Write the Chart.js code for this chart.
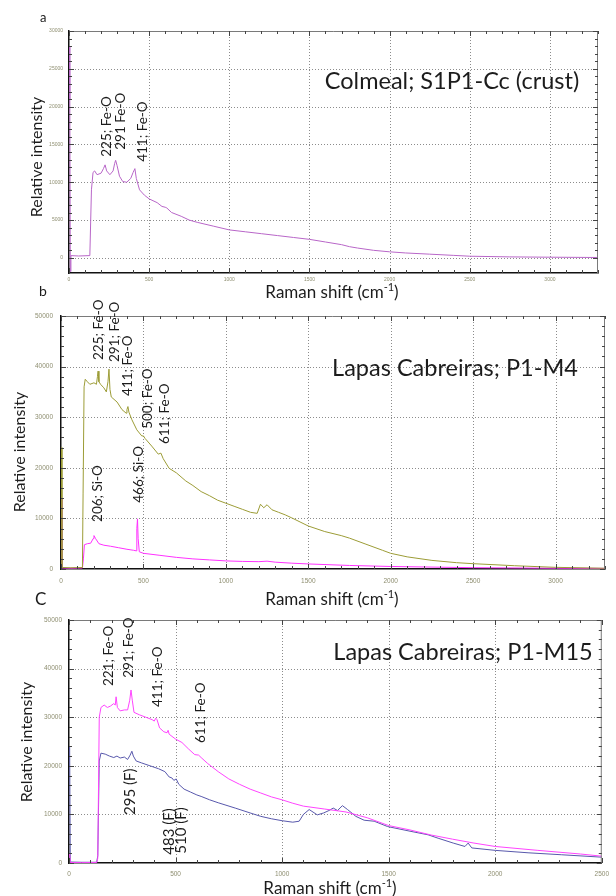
<!DOCTYPE html>
<html>
<head>
<meta charset="utf-8">
<script src="https://cdn.jsdelivr.net/npm/chart.js@4.4.1/dist/chart.umd.min.js"></script>
<style>
  body { margin: 0; background: #fff; width: 616px; height: 896px; overflow: hidden; position: relative; }
  canvas { position: absolute; left: 0; top: 0; pointer-events: none; }
</style>
</head>
<body>
<canvas id="chartA" width="616" height="896"></canvas>
<canvas id="chartB" width="616" height="896"></canvas>
<canvas id="chartC" width="616" height="896"></canvas>
<script>
// ---- panel a : Colmeal; S1P1-Cc (crust)
const shiftA = [3, 5, 8, 12, 60, 130, 140, 150, 160, 175, 200, 215, 225, 235, 255, 275, 285, 291, 300, 315, 335, 360, 385, 400, 411, 420, 440, 470, 500, 550, 580, 600, 610, 640, 700, 750, 800, 900, 1000, 1100, 1200, 1300, 1400, 1500, 1600, 1700, 1750, 1800, 1900, 2000, 2100, 2250, 2400, 2500, 2750, 3000, 3300];
const intensityA = [28000, 21000, -1800, 300, 250, 300, 9000, 11300, 11500, 11000, 11200, 11800, 12300, 11500, 11000, 11500, 12500, 12900, 12200, 10800, 10100, 10000, 10500, 11300, 11800, 10500, 9000, 8300, 7800, 7300, 6800, 6700, 6600, 6000, 5500, 5000, 4700, 4200, 3700, 3450, 3200, 2950, 2700, 2450, 2100, 1750, 1480, 1300, 1000, 800, 650, 490, 330, 220, 130, 90, 50];
const xTicksA = [0, 500, 1000, 1500, 2000, 2500, 3000];
const yTicksA = [0, 5000, 10000, 15000, 20000, 25000, 30000];
const peaksA = [
  { label: '225; Fe-O', x: 237, y: 13370 },
  { label: '291 Fe-O', x: 325, y: 14300 },
  { label: '411; Fe-O', x: 462, y: 12700 }
];

// ---- panel b : Lapas Cabreiras; P1-M4
const shiftB1 = [3, 6, 60, 130, 134, 140, 147, 160, 175, 200, 215, 221, 225, 230, 240, 260, 275, 285, 291, 297, 305, 340, 370, 395, 400, 406, 412, 430, 460, 490, 500, 510, 550, 590, 606, 620, 656, 700, 757, 800, 850, 900, 950, 1000, 1050, 1100, 1150, 1190, 1210, 1230, 1250, 1280, 1320, 1360, 1400, 1450, 1500, 1600, 1700, 1750, 1850, 1950, 2000, 2100, 2250, 2400, 2500, 2750, 3000, 3300];
const intensityB1 = [24000, 300, 250, 300, 15000, 36000, 37500, 37000, 36500, 36800, 36500, 38000, 39100, 37000, 36500, 35800, 35000, 37000, 39500, 35500, 34000, 33000, 31500, 30800, 31500, 32100, 31000, 29500, 27500, 26300, 26300, 25800, 24300, 22700, 22900, 21800, 19900, 19000, 17400, 16500, 15300, 14500, 13600, 13000, 12400, 11800, 11200, 11000, 12800, 12100, 12700, 11700, 11200, 10700, 10100, 9300, 8500, 7400, 6600, 6100, 4900, 3700, 3100, 2400, 1700, 1250, 1050, 650, 330, 150];
const shiftB2 = [3, 6, 60, 130, 136, 142, 160, 180, 195, 200, 210, 230, 260, 300, 350, 400, 440, 455, 460, 464, 468, 475, 500, 600, 700, 800, 900, 1000, 1100, 1200, 1250, 1300, 1400, 1500, 1750, 2000, 2500, 3000, 3300];
const intensityB2 = [14000, 200, 150, 200, 2000, 4800, 5000, 5100, 6000, 6600, 6000, 5000, 4700, 4500, 4200, 3900, 3700, 3600, 8000, 9900, 6000, 3400, 3100, 2700, 2300, 2000, 1800, 1600, 1500, 1450, 1550, 1350, 1150, 1000, 700, 500, 260, 150, 120];
const xTicksB = [0, 500, 1000, 1500, 2000, 2500, 3000];
const yTicksB = [0, 10000, 20000, 30000, 40000, 50000];
const peaksB = [
  { label: '225; Fe-O', x: 229, y: 41300 },
  { label: '291; Fe-O', x: 325, y: 40900 },
  { label: '411; Fe-O', x: 404, y: 34200 },
  { label: '500; Fe-O', x: 524, y: 27700 },
  { label: '611; Fe-O', x: 627, y: 24700 },
  { label: '206; Si-O', x: 223, y: 9300 },
  { label: '466; Si-O', x: 470, y: 13100 }
];

// ---- panel c : Lapas Cabreiras; P1-M15
const shiftC1 = [3, 6, 60, 130, 135, 142, 150, 165, 180, 195, 210, 217, 221, 227, 240, 260, 275, 285, 291, 297, 305, 330, 360, 390, 400, 407, 413, 425, 445, 460, 465, 470, 500, 530, 560, 590, 608, 620, 650, 700, 750, 800, 850, 900, 950, 1000, 1050, 1100, 1200, 1300, 1400, 1500, 1600, 1700, 1800, 1900, 2000, 2200, 2400, 2500];
const intensityC1 = [2000, 100, 80, 100, 1000, 30000, 32000, 32500, 32000, 32300, 32800, 32500, 34200, 32000, 31300, 31500, 31500, 33500, 35600, 33500, 31000, 30500, 30000, 29500, 29200, 29800, 29500, 27800, 27000, 26800, 27300, 26500, 25500, 24800, 23500, 22300, 22200, 21700, 20500, 18800, 17300, 16200, 15200, 14400, 13600, 13000, 12300, 11700, 11100, 10500, 9300, 7700, 6800, 5750, 4900, 4100, 3400, 2600, 1850, 1400];
const shiftC2 = [3, 6, 60, 130, 135, 142, 150, 170, 190, 210, 225, 240, 260, 275, 287, 295, 302, 315, 340, 380, 420, 450, 470, 483, 492, 503, 515, 540, 570, 600, 620, 660, 700, 780, 850, 900, 950, 1000, 1050, 1080, 1100, 1127, 1165, 1195, 1220, 1240, 1260, 1283, 1307, 1346, 1385, 1432, 1495, 1605, 1685, 1732, 1803, 1858, 1873, 1890, 2000, 2154, 2310, 2500];
const intensityC2 = [24000, 200, 150, 150, 1500, 21000, 22600, 22400, 22000, 21700, 22000, 21600, 21800, 21300, 22200, 23000, 22000, 21000, 20600, 20000, 19400, 18800, 17700, 17500, 17000, 17300, 16200, 15200, 14600, 14000, 13700, 13000, 12400, 11300, 10300, 9600, 9100, 8700, 8400, 8600, 10000, 11000, 9900, 10300, 10800, 11300, 10800, 11800, 11000, 9600, 8800, 8600, 7500, 6500, 5800, 5100, 4100, 3400, 4100, 3100, 2600, 2100, 1700, 1200];
const xTicksC = [0, 500, 1000, 1500, 2000, 2500];
const yTicksC = [0, 10000, 20000, 30000, 40000, 50000];
const peaksC = [
  { label: '221; Fe-O', x: 185, y: 36400 },
  { label: '291; Fe-O', x: 278, y: 38100 },
  { label: '411; Fe-O', x: 417, y: 32100 },
  { label: '611; Fe-O', x: 616, y: 24700 }
];
const bandsC = [
  { label: '295 (F)', x: 287, y: 9900 },
  { label: '483 (F)', x: 468, y: 1700 },
  { label: '510 (F)', x: 527, y: 1900 }
];

const TEXT = '#1c1c1c';
const TICK_TEXT = '#8e8e70';

function toPoints(xs, ys) {
  return xs.map((x, i) => ({ x: x, y: ys[i] }));
}

function rotatedText(ctx, text, x, y, font) {
  ctx.save();
  ctx.translate(x, y);
  ctx.rotate(-Math.PI / 2);
  ctx.font = font;
  ctx.textAlign = 'left';
  ctx.textBaseline = 'middle';
  ctx.fillText(text, 0, 0);
  ctx.restore();
}

function ramanTitle(ctx, cx, cy, size) {
  const main = 'Raman shift (cm', sup = '-1', end = ')';
  const f1 = size + 'px Lato', f2 = Math.round(size * 0.65) + 'px Lato';
  ctx.font = f1;
  const w1 = ctx.measureText(main).width, w3 = ctx.measureText(end).width;
  ctx.font = f2;
  const w2 = ctx.measureText(sup).width;
  let sx = cx - (w1 + w2 + w3) / 2;
  ctx.textAlign = 'left';
  ctx.textBaseline = 'middle';
  ctx.font = f1; ctx.fillText(main, sx, cy);
  ctx.font = f2; ctx.fillText(sup, sx + w1, cy - size * 0.3);
  ctx.font = f1; ctx.fillText(end, sx + w1 + w2, cy);
}

// dotted grid, frame, minor ticks and all the labels of a panel
const panelDecor = {
  id: 'panelDecor',
  beforeDatasetsDraw(chart) {
    const ctx = chart.ctx, ca = chart.chartArea;
    const xs = chart.scales.x, ys = chart.scales.y;
    ctx.save();
    ctx.strokeStyle = '#8c8c8c';
    ctx.lineWidth = 1;
    ctx.setLineDash([1, 2]);
    ctx.beginPath();
    xs.ticks.forEach(t => {
      const p = Math.round(xs.getPixelForValue(t.value)) + 0.5;
      if (p > ca.left + 2 && p < ca.right - 2) { ctx.moveTo(p, ca.top); ctx.lineTo(p, ca.bottom); }
    });
    ys.ticks.forEach(t => {
      const p = Math.round(ys.getPixelForValue(t.value)) + 0.5;
      if (p > ca.top + 2 && p < ca.bottom - 2) { ctx.moveTo(ca.left, p); ctx.lineTo(ca.right, p); }
    });
    ctx.stroke();
    ctx.restore();
  },
  afterDraw(chart, args, o) {
    const ctx = chart.ctx, ca = chart.chartArea;
    const xs = chart.scales.x, ys = chart.scales.y;
    ctx.save();
    ctx.strokeStyle = '#7a7a7a';
    ctx.lineWidth = 1;
    ctx.beginPath();
    ctx.moveTo(ca.left, ca.top + 0.5);
    ctx.lineTo(ca.right - 0.5, ca.top + 0.5);
    ctx.lineTo(ca.right - 0.5, ca.bottom);
    ctx.stroke();

    ctx.strokeStyle = '#444';
    ctx.beginPath();
    for (let v = 0; v <= xs.max; v += o.xMinor) {
      const p = Math.round(xs.getPixelForValue(v)) + 0.5;
      const len = v % o.xMajor === 0 ? 5 : 3;
      ctx.moveTo(p, ca.bottom); ctx.lineTo(p, ca.bottom - len);
      ctx.moveTo(p, ca.top); ctx.lineTo(p, ca.top + len);
    }
    for (let v = 0; v <= ys.max; v += o.yMinor) {
      const p = Math.round(ys.getPixelForValue(v)) + 0.5;
      const len = v % o.yMajor === 0 ? 5 : 3;
      ctx.moveTo(ca.left, p); ctx.lineTo(ca.left + len, p);
      ctx.moveTo(ca.right, p); ctx.lineTo(ca.right - len, p);
    }
    ctx.stroke();

    ctx.fillStyle = TEXT;
    ctx.textAlign = 'left';
    ctx.textBaseline = 'middle';
    ctx.font = o.letter.size + 'px Lato';
    ctx.fillText(o.letter.text, o.letter.x, o.letter.y);

    ctx.font = o.name.size + 'px Lato';
    ctx.textAlign = 'center';
    ctx.fillText(o.name.text, o.name.x, o.name.y);

    ctx.save();
    ctx.translate(o.yTitle.x, o.yTitle.y);
    ctx.rotate(-Math.PI / 2);
    ctx.font = o.yTitle.size + 'px Lato';
    ctx.textAlign = 'center';
    ctx.fillText('Relative intensity', 0, 0);
    ctx.restore();

    ramanTitle(ctx, o.xTitle.x, o.xTitle.y, o.xTitle.size);

    (o.peaks || []).forEach(p => {
      rotatedText(ctx, p.label, xs.getPixelForValue(p.x), ys.getPixelForValue(p.y), o.peakSize + 'px Lato');
    });
    (o.bands || []).forEach(p => {
      rotatedText(ctx, p.label, xs.getPixelForValue(p.x), ys.getPixelForValue(p.y), o.bandSize + 'px Lato');
    });
    ctx.restore();
  }
};

function makePanel(id, datasets, cfg) {
  new Chart(document.getElementById(id), {
    type: 'line',
    data: { datasets: datasets },
    plugins: [panelDecor],
    options: {
      responsive: false,
      animation: false,
      events: [],
      parsing: false,
      layout: { padding: cfg.padding },
      elements: { point: { radius: 0 }, line: { borderWidth: 1, tension: 0 } },
      plugins: {
        legend: { display: false },
        tooltip: { enabled: false },
        panelDecor: cfg.decor
      },
      scales: {
        x: {
          type: 'linear',
          min: 0,
          max: cfg.xMax,
          afterBuildTicks: s => { s.ticks = cfg.xTicks.map(v => ({ value: v })); },
          afterFit: s => { s.height = 20; },
          grid: { display: false, drawTicks: false },
          border: { color: '#111', width: 1.5 },
          ticks: { color: TICK_TEXT, font: { size: cfg.tickSize, family: 'Liberation Sans' }, padding: cfg.xPad, maxRotation: 0, autoSkip: false, callback: v => String(v) }
        },
        y: {
          min: cfg.yMin,
          max: cfg.yMax,
          afterBuildTicks: s => { s.ticks = cfg.yTicks.map(v => ({ value: v })); },
          afterFit: s => { s.width = cfg.yWidth; },
          grid: { display: false, drawTicks: false },
          border: { color: '#111', width: 1.5 },
          ticks: { color: TICK_TEXT, font: { size: cfg.tickSize, family: 'Liberation Sans' }, padding: cfg.yPad, autoSkip: false, callback: v => String(v) }
        }
      }
    }
  });
}

makePanel('chartA', [
  { data: toPoints(shiftA, intensityA), borderColor: '#b866c8' }
], {
  padding: { top: 31, right: 18, bottom: 603, left: 0 },
  yWidth: 69, xMax: 3300, yMin: -2000, yMax: 30000,
  xTicks: xTicksA, yTicks: yTicksA, tickSize: 5, xPad: 4, yPad: 6,
  decor: {
    xMinor: 100, xMajor: 500, yMinor: 1000, yMajor: 5000,
    letter: { text: 'a', x: 40, y: 18, size: 13 },
    name: { text: 'Colmeal; S1P1-Cc (crust)', x: 452, y: 81, size: 23.5 },
    yTitle: { x: 37, y: 157, size: 16 },
    xTitle: { x: 332, y: 293, size: 17 },
    peaks: peaksA, peakSize: 13.5
  }
});

makePanel('chartB', [
  { data: toPoints(shiftB1, intensityB1), borderColor: '#9c9c36' },
  { data: toPoints(shiftB2, intensityB2), borderColor: '#ff30ff' }
], {
  padding: { top: 316, right: 11, bottom: 307, left: 0 },
  yWidth: 61, xMax: 3300, yMin: 0, yMax: 50000,
  xTicks: xTicksB, yTicks: yTicksB, tickSize: 6.5, xPad: 8, yPad: 8,
  decor: {
    xMinor: 100, xMajor: 500, yMinor: 2000, yMajor: 10000,
    letter: { text: 'b', x: 39, y: 291, size: 14 },
    name: { text: 'Lapas Cabreiras; P1-M4', x: 455, y: 368, size: 23.5 },
    yTitle: { x: 20, y: 452, size: 16 },
    xTitle: { x: 332, y: 600, size: 17 },
    peaks: peaksB, peakSize: 13.5
  }
});

makePanel('chartC', [
  { data: toPoints(shiftC1, intensityC1), borderColor: '#ff44ff' },
  { data: toPoints(shiftC2, intensityC2), borderColor: '#5858ac' }
], {
  padding: { top: 620, right: 8, bottom: 13, left: 0 },
  yWidth: 69, xMax: 2500, yMin: 0, yMax: 50000,
  xTicks: xTicksC, yTicks: yTicksC, tickSize: 6.5, xPad: 7, yPad: 7,
  decor: {
    xMinor: 100, xMajor: 500, yMinor: 2000, yMajor: 10000,
    letter: { text: 'C', x: 35, y: 600, size: 17 },
    name: { text: 'Lapas Cabreiras; P1-M15', x: 463, y: 652, size: 23.5 },
    yTitle: { x: 27, y: 742, size: 16 },
    xTitle: { x: 330, y: 889, size: 17 },
    peaks: peaksC, peakSize: 13.5,
    bands: bandsC, bandSize: 15
  }
});
</script>
</body>
</html>
